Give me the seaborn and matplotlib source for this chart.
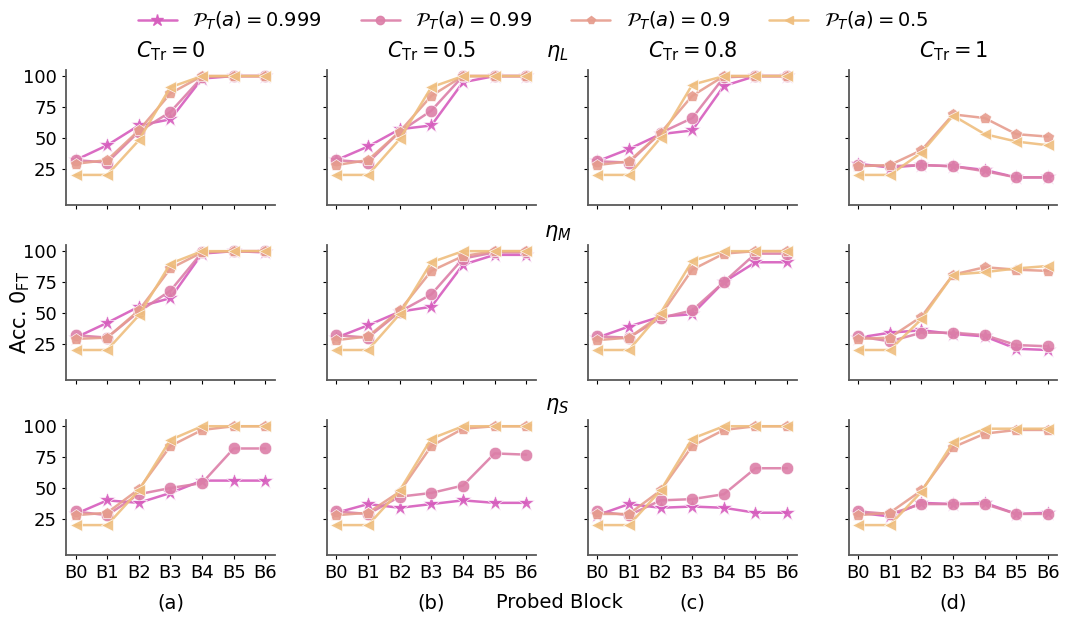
import pandas as pd
import matplotlib
matplotlib.use("Agg")
import matplotlib.pyplot as plt
import seaborn as sns

# ----------------------------------------
# data (one list per C_Tr column: 0, 0.5, 0.8, 1)
# ----------------------------------------
blocks = ["B0", "B1", "B2", "B3", "B4", "B5", "B6"]
c_tr_titles = ["0", "0.5", "0.8", "1"]
probs = ["0.999", "0.99", "0.9", "0.5"]
panel_tags = ["(a)", "(b)", "(c)", "(d)"]
row_names = ["L", "M", "S"]

# eta_L row
eta_L_999 = [[32, 44, 60, 65, 98, 100, 100],
             [32, 43, 57, 60, 95, 100, 100],
             [31, 41, 53, 56, 92, 100, 100],
             [29, 26, 28, 27, 24, 18, 18]]
eta_L_99 = [[32, 30, 55, 71, 99, 100, 100],
            [32, 30, 55, 72, 100, 100, 100],
            [31, 30, 54, 66, 99, 100, 100],
            [28, 27, 28, 27, 23, 18, 18]]
eta_L_9 = [[29, 32, 56, 86, 100, 100, 100],
           [28, 32, 55, 84, 100, 100, 100],
           [28, 31, 54, 84, 100, 100, 100],
           [27, 28, 40, 69, 66, 53, 51]]
eta_L_5 = [[20, 20, 48, 91, 100, 100, 100],
           [20, 20, 49, 91, 100, 100, 100],
           [20, 20, 50, 93, 100, 100, 100],
           [20, 20, 38, 68, 53, 47, 44]]

# eta_M row
eta_M_999 = [[30, 42, 55, 62, 98, 100, 99],
             [30, 40, 51, 55, 89, 97, 97],
             [30, 39, 47, 49, 75, 91, 91],
             [30, 34, 36, 33, 31, 21, 20]]
eta_M_99 = [[32, 30, 51, 68, 99, 100, 100],
            [32, 30, 51, 65, 94, 99, 99],
            [31, 30, 46, 52, 75, 98, 98],
            [31, 27, 34, 34, 32, 24, 23]]
eta_M_9 = [[29, 30, 52, 86, 99, 100, 100],
           [28, 31, 52, 84, 96, 100, 100],
           [28, 30, 48, 85, 98, 100, 100],
           [29, 30, 47, 81, 87, 85, 84]]
eta_M_5 = [[20, 20, 48, 90, 100, 100, 100],
           [20, 20, 49, 91, 100, 100, 100],
           [20, 20, 50, 92, 100, 100, 100],
           [20, 20, 45, 81, 83, 86, 88]]

# eta_S row
eta_S_999 = [[29, 40, 38, 46, 56, 56, 56],
             [30, 37, 34, 37, 40, 38, 38],
             [28, 37, 34, 35, 34, 30, 30],
             [30, 27, 38, 37, 38, 29, 30]]
eta_S_99 = [[31, 28, 45, 50, 54, 82, 82],
            [31, 29, 43, 46, 52, 78, 77],
            [31, 28, 40, 41, 45, 66, 66],
            [31, 29, 37, 37, 37, 29, 29]]
eta_S_9 = [[28, 30, 49, 84, 97, 100, 100],
           [28, 30, 47, 84, 98, 100, 100],
           [29, 29, 48, 84, 97, 100, 100],
           [28, 30, 48, 83, 94, 97, 97]]
eta_S_5 = [[20, 20, 48, 89, 100, 100, 100],
           [20, 20, 48, 90, 100, 100, 100],
           [20, 20, 48, 90, 100, 100, 100],
           [20, 20, 47, 87, 98, 98, 98]]

rows = [
    [eta_L_999, eta_L_99, eta_L_9, eta_L_5],
    [eta_M_999, eta_M_99, eta_M_9, eta_M_5],
    [eta_S_999, eta_S_99, eta_S_9, eta_S_5],
]

# build long table
records = []
for r, series in enumerate(rows):
    for p, vals in zip(probs, series):
        for c in range(4):
            for b, v in enumerate(vals[c]):
                records.append({"row": r, "col": c, "prob": p, "block": b, "acc": v})
df = pd.DataFrame(records)

# ----------------------------------------
# style
# ----------------------------------------
sns.set_style("ticks")
plt.rcParams['font.family'] = ['DejaVu Sans']
plt.rcParams['mathtext.fontset'] = 'dejavusans'
plt.rcParams['text.color'] = 'black'
plt.rcParams['axes.labelcolor'] = 'black'
plt.rcParams['xtick.color'] = 'black'
plt.rcParams['ytick.color'] = 'black'

palette = {"0.999": "#d65cbd", "0.99": "#dc7fa8", "0.9": "#e69d8e", "0.5": "#efbe7e"}
markers = {"0.999": "*", "0.99": "o", "0.9": "p", "0.5": "<"}
labels = {p: r"$\mathcal{P}_T(a) = %s$" % p for p in probs}

fig, axes = plt.subplots(3, 4, figsize=(10.66, 6.24), dpi=100, sharex=True, sharey=True)
fig.subplots_adjust(left=0.062, right=0.992, top=0.888, bottom=0.111,
                    wspace=0.25, hspace=0.30)

for r in range(3):
    for c in range(4):
        ax = axes[r, c]
        sub = df[(df["row"] == r) & (df["col"] == c)]
        sns.lineplot(data=sub, x="block", y="acc", hue="prob", style="prob",
                     hue_order=probs, style_order=probs, palette=palette,
                     markers=markers, dashes=False, markersize=9,
                     markeredgewidth=0.5, linewidth=1.8, alpha=0.9,
                     legend=False, ax=ax)
        for ln in ax.lines:
            if ln.get_marker() == "*":
                ln.set_markersize(12)
        ax.set_xlabel("")
        ax.set_ylabel("")
        ax.set_ylim(-4, 105)
        ax.set_yticks([25, 50, 75, 100])
        ax.set_xticks(range(len(blocks)))
        ax.set_xticklabels(blocks)
        ax.tick_params(axis="both", labelsize=13, length=3)
        for s in ["left", "bottom"]:
            ax.spines[s].set_color("0.35")
            ax.spines[s].set_linewidth(1.3)
        sns.despine(ax=ax)
        if r == 0:
            ax.set_title(r"$C_{\mathrm{Tr}} = %s$" % c_tr_titles[c], fontsize=15, pad=9)

axes[1, 0].set_ylabel(r"Acc. 0$_{\mathrm{FT}}$", fontsize=15)
axes[1, 0].yaxis.set_label_coords(-0.165, 0.5)
axes[1, 2].set_ylabel(r"Acc. 0$_{\mathrm{FT}}$", fontsize=15)
axes[1, 2].yaxis.set_label_coords(-0.03, 0.5)

# row names
for r, name, y in zip(range(3), row_names, [0.915, 0.626, 0.35]):
    fig.text(0.523, y, r"$\eta_{%s}$" % name, fontsize=15, ha="center", va="center")

# column tags and x label
for c in range(4):
    pos = axes[2, c].get_position()
    fig.text((pos.x0 + pos.x1) / 2, 0.033, panel_tags[c], fontsize=14, ha="center", va="center")
fig.text(0.525, 0.035, "Probed Block", fontsize=14, ha="center", va="center")

# legend
handles = [plt.Line2D([], [], color=palette[p], marker=markers[p],
                      markersize=9 if p == "0.999" else 6,
                      linewidth=1.8, alpha=0.9) for p in probs]
fig.legend(handles, [labels[p] for p in probs], loc="upper center",
           bbox_to_anchor=(0.5, 1.012), ncol=4, frameon=False, fontsize=14,
           handlelength=2, columnspacing=2.0)

plt.savefig("out.png", dpi=100)
